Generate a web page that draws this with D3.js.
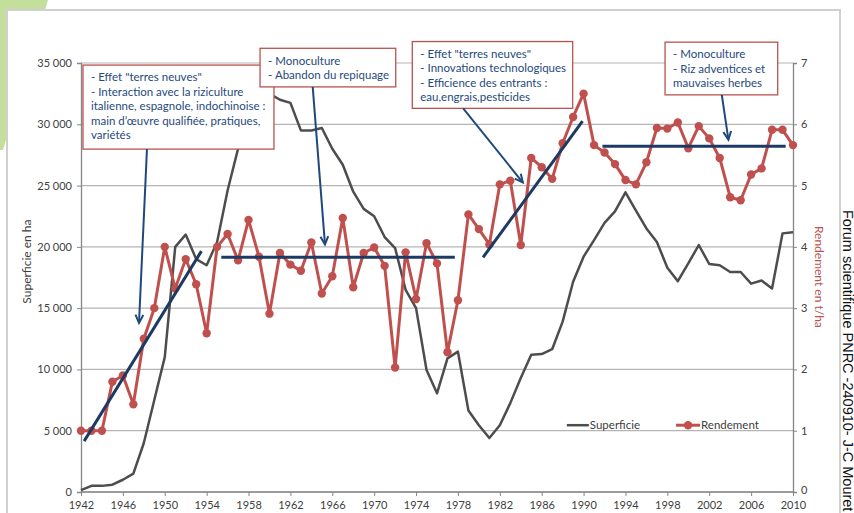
<!DOCTYPE html>
<html><head><meta charset="utf-8">
<script src="https://cdn.jsdelivr.net/npm/d3@7"></script>
<style>
html,body{margin:0;padding:0;background:#fff;}
svg{display:block;}
text{font-family:Lato,"Open Sans",sans-serif;}
</style></head>
<body>
<svg id="chart" width="854" height="513"></svg>
<script>
// ---------- DATA ----------
const years = d3.range(1942, 2011);
const superficie = [150,500,500,600,1000,1500,4000,7500,11000,20000,21000,19000,18500,20400,24600,28000,31500,33000,32500,32000,31750,29500,29500,29700,28000,26700,24500,23100,22500,20800,19900,16500,15000,9950,8050,10900,11450,6650,5450,4400,5450,7250,9300,11200,11250,11650,13900,17150,19200,20550,21950,22900,24450,22950,21500,20400,18300,17200,18650,20150,18600,18500,17950,17950,17000,17250,16600,21100,21200];
const rendement = [1.0,1.0,1.0,1.80,1.90,1.43,2.50,3.0,4.0,3.32,3.80,3.39,2.59,4.0,4.21,3.78,4.44,3.84,2.91,3.90,3.71,3.61,4.07,3.24,3.52,4.47,3.34,3.90,3.99,3.69,2.03,3.91,3.15,4.06,3.73,2.28,3.13,4.53,4.29,4.04,5.02,5.08,4.03,5.45,5.30,5.11,5.69,6.12,6.50,5.66,5.54,5.35,5.09,5.02,5.38,5.94,5.93,6.03,5.61,5.97,5.77,5.45,4.81,4.76,5.18,5.28,5.91,5.91,5.66];
const leftTicks = [0,5000,10000,15000,20000,25000,30000,35000];
const rightTicks = [0,1,2,3,4,5,6,7];
const xTicks = d3.range(1942, 2011, 4);
// trend segments (year, t/ha)
const trends = [
  {x1:1942.3, y1:0.83, x2:1953.5, y2:3.93},
  {x1:1955.4, y1:3.83, x2:1977.7, y2:3.83},
  {x1:1980.4, y1:3.83, x2:1989.9, y2:6.05},
  {x1:1991.8, y1:5.64, x2:2009.3, y2:5.64}
];
// annotation boxes (year / t/ha units)
const notes = [
  {x0:1942.19, x1:1960.43, y0:6.966, y1:5.595,
   lines:['- Effet "terres neuves"','- Interaction avec la riziculture','italienne, espagnole, indochinoise :','main d\u2019œuvre qualifiée, pratiques,','variétés'],
   ax1:1948.3, ay1:5.595, ax2:1947.54, ay2:2.76},
  {x0:1959.1, x1:1972.06, y0:7.24, y1:6.61,
   lines:['- Monoculture','- Abandon du repiquage'],
   ax1:1964.13, ay1:6.61, ax2:1965.3, ay2:4.04},
  {x0:1973.64, x1:1988.96, y0:7.35, y1:6.26,
   lines:['- Effet "terres neuves"','- Innovations technologiques','- Efficience des entrants :','eau,engrais,pesticides'],
   ax1:1978.5, ay1:6.26, ax2:1984.2, ay2:5.05},
  {x0:1997.78, x1:2008.54, y0:7.34, y1:6.48,
   lines:['- Monoculture','- Riz adventices et','mauvaises herbes'],
   ax1:2003.2, ay1:6.48, ax2:2003.83, ay2:5.75}
];

// ---------- CHART ----------
const svg = d3.select('#chart');
const x = d3.scaleLinear().domain([1942, 2010]).range([81, 793]);
const yL = d3.scaleLinear().domain([0, 35000]).range([492, 63]);
const yR = d3.scaleLinear().domain([0, 7]).range([492, 63]);

// background decoration
svg.append('polygon').attr('points','0,0 48,0 3,150 0,150').attr('fill','#c4df9b');
svg.append('rect').attr('x',7).attr('y',10).attr('width',833).attr('height',520)
  .attr('fill','#fff').attr('stroke','#d0d0d0').attr('stroke-width',2);

// gridlines
svg.append('g').selectAll('line').data(leftTicks).join('line')
  .attr('x1', 81).attr('x2', 793)
  .attr('y1', d => yL(d)).attr('y2', d => yL(d))
  .attr('stroke', '#b5b5b5').attr('stroke-width', 1.2);

// axes
const axColor = '#868686';
const gL = svg.append('g').attr('transform','translate(81,0)')
  .call(d3.axisLeft(yL).tickValues(leftTicks).tickSize(4).tickPadding(5)
  .tickFormat(d => d3.format(',')(d).replace(',', ' ')));
const gR = svg.append('g').attr('transform','translate(793,0)')
  .call(d3.axisRight(yR).tickValues(rightTicks).tickSize(4).tickPadding(4).tickFormat(d3.format('d')));
const gX = svg.append('g').attr('transform','translate(0,492)')
  .call(d3.axisBottom(x).tickValues(xTicks).tickSize(4).tickPadding(5).tickFormat(d3.format('d')));
[gL, gR, gX].forEach(g => {
  g.select('.domain').attr('stroke', axColor).attr('stroke-width', 1.3);
  g.selectAll('.tick line').attr('stroke', axColor);
  g.selectAll('.tick text').attr('fill', '#404040').style('font-size', '11px')
    .style('font-family', 'Lato, sans-serif');
});
gX.select('.domain').attr('d', 'M81,0H793');
gR.selectAll('.tick text').filter(d => d === 0).attr('dy', '0.1em');

// superficie line
svg.append('path').datum(years.map((yr, i) => [yr, superficie[i]]))
  .attr('fill','none').attr('stroke','#4d4d4d').attr('stroke-width',2.5)
  .attr('stroke-linejoin','round')
  .attr('d', d3.line().x(d => x(d[0])).y(d => yL(d[1])));

// rendement line
const rd = years.map((yr, i) => [yr, rendement[i]]);
svg.append('path').datum(rd)
  .attr('fill','none').attr('stroke','#c0504d').attr('stroke-width',3)
  .attr('stroke-linejoin','round')
  .attr('d', d3.line().x(d => x(d[0])).y(d => yR(d[1])));
svg.append('g').selectAll('circle').data(rd).join('circle')
  .attr('cx', d => x(d[0])).attr('cy', d => yR(d[1])).attr('r', 4.2)
  .attr('fill', '#c0504d');

// trend lines
svg.append('g').selectAll('line').data(trends).join('line')
  .attr('x1', d => x(d.x1)).attr('y1', d => yR(d.y1))
  .attr('x2', d => x(d.x2)).attr('y2', d => yR(d.y2))
  .attr('stroke', '#1c3a63').attr('stroke-width', 3);

// annotation boxes + arrows
const noteG = svg.append('g');
notes.forEach(n => {
  const bx = x(n.x0), by = yR(n.y0), bw = x(n.x1) - x(n.x0), bh = yR(n.y1) - yR(n.y0);
  noteG.append('rect').attr('x', bx).attr('y', by).attr('width', bw).attr('height', bh)
    .attr('fill', '#fff').attr('stroke', '#b9534f').attr('stroke-width', 1.3);
  n.lines.forEach((t, i) => {
    noteG.append('text').attr('x', bx + 8).attr('y', by + 12.3 + i * 14.4)
      .attr('dy', '0.35em').attr('fill', '#1f497d').style('font-size', '11.5px').text(t);
  });
  const x1 = x(n.ax1), y1 = yR(n.ay1), x2 = x(n.ax2), y2 = yR(n.ay2);
  noteG.append('line').attr('x1', x1).attr('y1', y1).attr('x2', x2).attr('y2', y2)
    .attr('stroke', '#1f497d').attr('stroke-width', 2);
  const ang = Math.atan2(y2 - y1, x2 - x1), L = 9, a = 0.45;
  const p1 = [x2 - L * Math.cos(ang - a), y2 - L * Math.sin(ang - a)];
  const p2 = [x2 - L * Math.cos(ang + a), y2 - L * Math.sin(ang + a)];
  noteG.append('path').attr('d', `M${p1}L${x2},${y2}L${p2}`)
    .attr('fill', 'none').attr('stroke', '#1f497d').attr('stroke-width', 2);
});

// legend
const lg = svg.append('g');
const lx1 = x(1988.4), ly = yR(1.09);
lg.append('line').attr('x1', lx1).attr('x2', lx1 + 22).attr('y1', ly).attr('y2', ly)
  .attr('stroke', '#4d4d4d').attr('stroke-width', 2.5);
lg.append('text').attr('x', lx1 + 23).attr('y', ly).attr('dy', '0.35em')
  .attr('fill', '#404040').style('font-size', '11.5px').text('Superficie');
const lx2 = x(1998.83);
lg.append('line').attr('x1', lx2).attr('x2', lx2 + 24).attr('y1', ly).attr('y2', ly)
  .attr('stroke', '#c0504d').attr('stroke-width', 3);
lg.append('circle').attr('cx', lx2 + 12).attr('cy', ly).attr('r', 4.2).attr('fill', '#c0504d');
lg.append('text').attr('x', lx2 + 25).attr('y', ly).attr('dy', '0.35em')
  .attr('fill', '#404040').style('font-size', '11.5px').text('Rendement');

// axis titles
svg.append('text').attr('transform', `translate(27,${yL(18800)}) rotate(-90)`)
  .attr('text-anchor', 'middle').attr('dy', '0.35em').attr('fill', '#404040')
  .style('font-size', '12px').text('Superficie en ha');
svg.append('text').attr('transform', `translate(819,${yR(3.51)}) rotate(90)`)
  .attr('text-anchor', 'middle').attr('dy', '0.35em').attr('fill', '#b9534f')
  .style('font-size', '12px').text('Rendement en t/ha');
svg.append('text').attr('transform', 'translate(848,210) rotate(90)')
  .attr('text-anchor', 'start').attr('dy', '0.35em').attr('fill', '#111')
  .style('font-family', '"Liberation Sans", Arial, sans-serif').style('font-size', '14.5px')
  .text('Forum scientifique PNRC -240910- J-C Mouret');
</script>
</body></html>
